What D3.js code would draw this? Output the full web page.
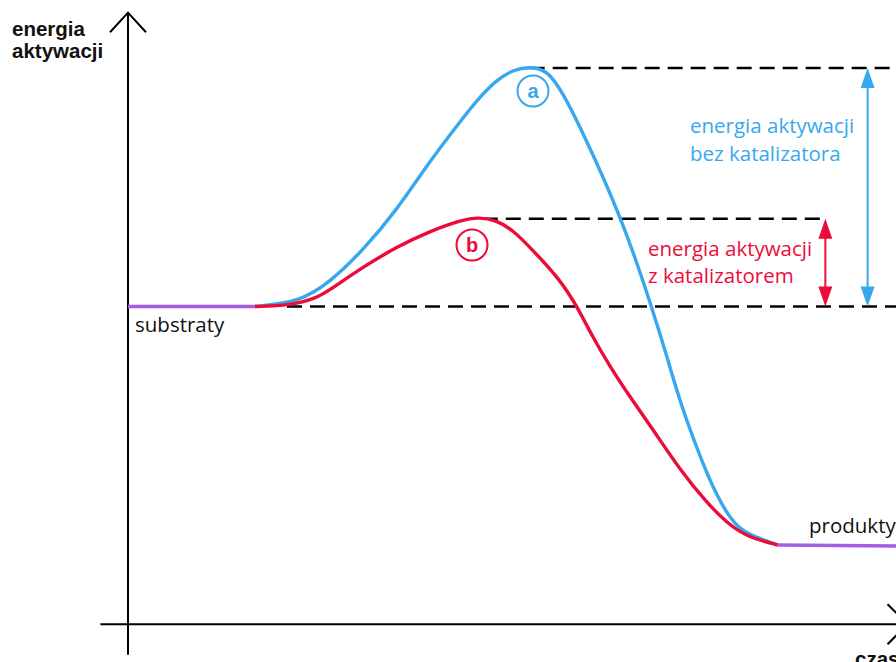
<!DOCTYPE html>
<html>
<head>
<meta charset="utf-8">
<script src="https://cdn.jsdelivr.net/npm/d3@7"></script>
<style>
  html, body { margin: 0; padding: 0; background: #fff; overflow: hidden; }
  .lbl { font-family: 'Open Sans', sans-serif; }
  .bold { font-family: 'Liberation Sans', Arial, sans-serif; font-weight: bold; }
</style>
</head>
<body>
<div id="chart"></div>
<script>
// reaction progress (time, 0-100) vs energy (products = 0, peak without catalyst = 100)
const flatSubstrate = [[0, 50], [16.5, 50]]
const flatProduct = [[84.6, 0], [100, -0.2]]

// (a) without catalyst
const curveA = [
  [16.5, 50], [22.4, 51.0], [26.3, 55.1], [30.6, 61.8], [35.0, 70.2], [39.3, 80.5],
  [43.6, 89.5], [45.8, 93.9], [48.0, 97.5], [50.1, 99.6], [52.3, 100.3], [54.6, 99.6],
  [56.6, 94.8], [58.9, 87.6], [64.3, 68.6], [68.2, 49.9], [70.2, 39.4], [71.9, 29.8],
  [74.5, 18.4], [76.7, 10.1], [78.8, 4.6], [80.6, 2.3], [84.6, 0]
]
// (b) with catalyst
const curveB = [
  [16.5, 50], [21.1, 50.2], [24.6, 51.8], [26.3, 53.5], [30.6, 58.3], [35.0, 62.5],
  [39.3, 65.8], [43.6, 68.2], [45.6, 68.7], [48.0, 68.1], [50.1, 66.0], [52.3, 62.5],
  [56.3, 55.6], [58.5, 49.9], [60.5, 43.6], [62.8, 37.3], [65.0, 31.9], [68.4, 24.1],
  [71.9, 15.7], [75.4, 8.8], [78.0, 4.6], [80.6, 1.7], [84.6, 0]
]

// dashed reference levels: [energy, from, to]
const dashLevels = [[100, 52.3, 100], [68.4, 46.2, 91.0], [50, 20.7, 100]]

const blue = '#38a8ee'
const red = '#ec0c3a'
const purple = '#a55de6'

// activation energy arrows: [time, from, to]
const arrows = [
  { t: 90.8, from: 50, to: 68.4, color: red },
  { t: 96.3, from: 50, to: 100, color: blue }
]

const width = 896
const height = 662

const x = d3.scaleLinear().domain([0, 100]).range([128, 896])
const y = d3.scaleLinear().domain([0, 100]).range([545, 68])

const svg = d3.select('#chart').append('svg')
  .attr('width', width)
  .attr('height', height)

const line = d3.line()
  .x(d => x(d[0]))
  .y(d => y(d[1]))
  .curve(d3.curveBasis)

// axes
svg.append('line')
  .attr('x1', x(0)).attr('x2', x(0))
  .attr('y1', y(111.6)).attr('y2', y(-23))
  .attr('stroke', '#000').attr('stroke-width', 2)
svg.append('path')
  .attr('d', `M${x(0) - 18},${y(107.5)}L${x(0)},${y(111.6)}L${x(0) + 18},${y(107.5)}`)
  .attr('fill', 'none').attr('stroke', '#000').attr('stroke-width', 2)

svg.append('line')
  .attr('x1', x(-3.6)).attr('x2', x(101.5))
  .attr('y1', y(-16.6)).attr('y2', y(-16.6))
  .attr('stroke', '#000').attr('stroke-width', 2)
svg.append('path')
  .attr('d', `M${x(98.9)},${y(-16.6) - 20}L${x(101.5)},${y(-16.6)}L${x(98.9)},${y(-16.6) + 20}`)
  .attr('fill', 'none').attr('stroke', '#000').attr('stroke-width', 2)

// dashed levels
svg.selectAll('.dash')
  .data(dashLevels).enter()
  .append('line')
  .attr('x1', d => x(d[1]))
  .attr('x2', d => x(d[2]))
  .attr('y1', d => y(d[0]))
  .attr('y2', d => y(d[0]))
  .attr('stroke', '#000')
  .attr('stroke-width', 2.6)
  .attr('stroke-dasharray', '15,8')

// curves
svg.append('path').attr('d', line(curveA))
  .attr('fill', 'none').attr('stroke', blue).attr('stroke-width', 3.4)
svg.append('path').attr('d', line(curveB))
  .attr('fill', 'none').attr('stroke', red).attr('stroke-width', 3.4)
svg.append('path').attr('d', line(flatSubstrate))
  .attr('fill', 'none').attr('stroke', purple).attr('stroke-width', 3.4)
svg.append('path').attr('d', line(flatProduct))
  .attr('fill', 'none').attr('stroke', purple).attr('stroke-width', 3.4)

// arrows
arrows.forEach(a => {
  const cx = x(a.t)
  const yTop = y(a.to)
  const yBot = y(a.from)
  svg.append('line')
    .attr('x1', cx).attr('x2', cx)
    .attr('y1', yTop + 10).attr('y2', yBot - 10)
    .attr('stroke', a.color).attr('stroke-width', 2)
  svg.append('path')
    .attr('d', `M${cx},${yTop}L${cx - 7},${yTop + 20}L${cx + 7},${yTop + 20}Z`)
    .attr('fill', a.color)
  svg.append('path')
    .attr('d', `M${cx},${yBot}L${cx - 7},${yBot - 20}L${cx + 7},${yBot - 20}Z`)
    .attr('fill', a.color)
})

// circled markers
const markers = [
  { text: 'a', cx: 533, cy: 91, color: blue },
  { text: 'b', cx: 472, cy: 245, color: red }
]
markers.forEach(m => {
  svg.append('circle')
    .attr('cx', m.cx).attr('cy', m.cy).attr('r', 15.5)
    .attr('fill', '#fff').attr('stroke', m.color).attr('stroke-width', 2)
  svg.append('text')
    .attr('class', 'bold')
    .attr('x', m.cx).attr('y', m.cy + 7)
    .attr('text-anchor', 'middle')
    .attr('font-size', 20)
    .attr('fill', m.color)
    .text(m.text)
})

// labels
const labels = [
  { text: 'energia aktywacji', x: 690, y: 133, color: blue },
  { text: 'bez katalizatora', x: 690, y: 161, color: blue },
  { text: 'energia aktywacji', x: 648, y: 256, color: red },
  { text: 'z katalizatorem', x: 648, y: 283, color: red },
  { text: 'substraty', x: 135, y: 332, color: '#111' },
  { text: 'produkty', x: 809, y: 533, color: '#111' }
]
svg.selectAll('.lbl')
  .data(labels).enter()
  .append('text')
  .attr('class', 'lbl')
  .attr('x', d => d.x)
  .attr('y', d => d.y)
  .attr('font-size', 20.5)
  .attr('fill', d => d.color)
  .text(d => d.text)

const axisLabels = [
  { text: 'energia', x: 12, y: 36 },
  { text: 'aktywacji', x: 12, y: 58 },
  { text: 'czas', x: 855, y: 666 }
]
svg.selectAll('.axl')
  .data(axisLabels).enter()
  .append('text')
  .attr('class', 'bold')
  .attr('x', d => d.x)
  .attr('y', d => d.y)
  .attr('font-size', 20.5)
  .attr('fill', '#111')
  .text(d => d.text)
</script>
</body>
</html>
